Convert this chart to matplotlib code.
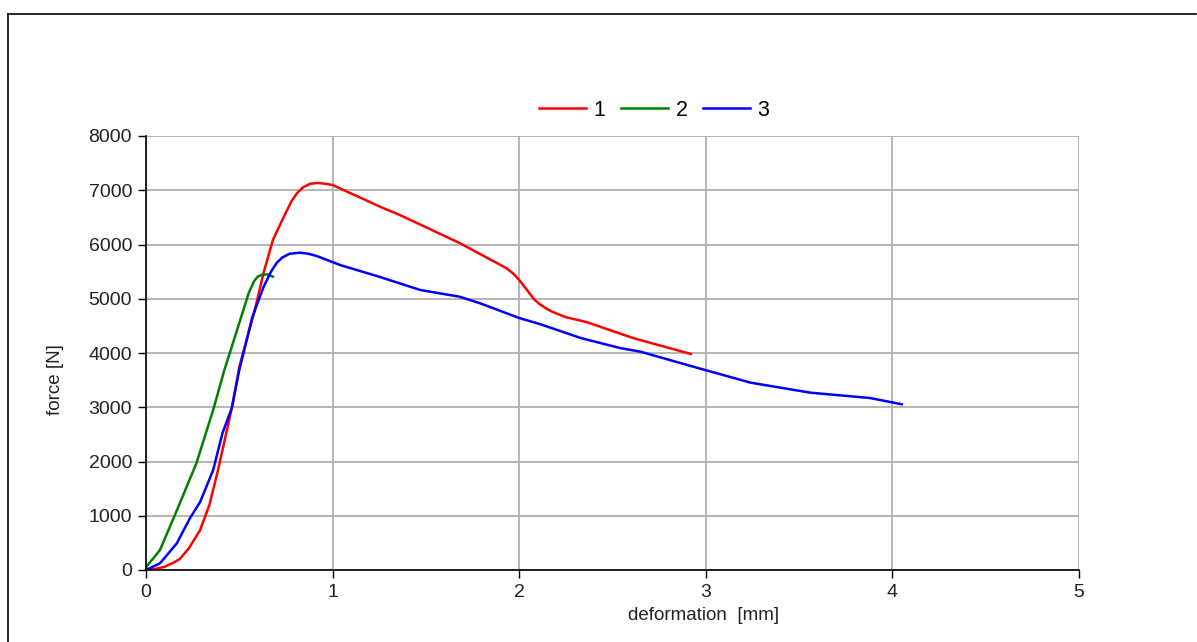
import matplotlib.pyplot as plt
from matplotlib.lines import Line2D

plt.rcParams["font.family"] = ["Liberation Sans", "DejaVu Sans"]

# curve 1 (red)
x1 = [0.0, 0.05, 0.10, 0.15, 0.18, 0.23, 0.29, 0.34, 0.386, 0.46, 0.50, 0.52, 0.58, 0.63,
      0.68, 0.73, 0.78, 0.81, 0.84, 0.88, 0.92, 0.96, 1.00, 1.254, 1.36, 1.68, 1.93,
      1.97, 2.00, 2.04, 2.08, 2.11, 2.15, 2.18, 2.25, 2.36, 2.61, 2.92]
y1 = [0, 20, 60, 140, 200, 400, 737, 1200, 1843, 2986, 3742, 4000, 4750, 5475,
      6083, 6450, 6800, 6950, 7050, 7120, 7134, 7120, 7097, 6697, 6544, 6028, 5567,
      5460, 5346, 5170, 4990, 4900, 4810, 4756, 4660, 4571, 4276, 3982]

# curve 2 (green)
x2 = [0.0, 0.075, 0.155, 0.27, 0.36, 0.42, 0.50, 0.55, 0.58, 0.60, 0.62, 0.65, 0.68]
y2 = [50, 369, 1014, 1966, 2949, 3687, 4553, 5100, 5330, 5410, 5440, 5450, 5407]

# curve 3 (blue)
x3 = [0.0, 0.075, 0.165, 0.236, 0.29, 0.36, 0.41, 0.46, 0.50, 0.57, 0.63, 0.67, 0.70,
      0.73, 0.77, 0.825, 0.87, 0.915, 1.04, 1.254, 1.47, 1.68, 1.79, 2.00, 2.11, 2.33,
      2.54, 2.65, 2.92, 3.24, 3.56, 3.88, 4.05]
y3 = [0, 123, 491, 958, 1253, 1843, 2525, 2986, 3687, 4664, 5217, 5500, 5659,
      5760, 5830, 5849, 5830, 5788, 5622, 5401, 5161, 5038, 4917, 4645, 4534, 4276,
      4092, 4024, 3760, 3453, 3269, 3170, 3055]

labels = ["1", "2", "3"]
colors = ["#ff0000", "#008000", "#0000ff"]

fig = plt.figure(figsize=(11.97, 6.42), dpi=100)
ax = fig.add_axes([146/1197, 1 - 570/642, (1079 - 146)/1197, (570 - 136)/642])

for xs, ys, lab, c in zip([x1, x2, x3], [y1, y2, y3], labels, colors):
    ax.plot(xs, ys, color=c, lw=1.8, label=lab, solid_joinstyle="round")

ax.set_xlim(0, 5)
ax.set_ylim(0, 8000)
ax.set_xticks(range(0, 6))
ax.set_yticks(range(0, 8001, 1000))
ax.grid(True, color="#b0b0b0", lw=1.3)
ax.set_axisbelow(True)
for s in ["top", "right"]:
    ax.spines[s].set_visible(False)
for s in ["left", "bottom"]:
    ax.spines[s].set_color("black")
    ax.spines[s].set_linewidth(1.2)
ax.tick_params(direction="out", length=6, width=1.0, labelsize=14,
               labelcolor="#222222", pad=4)

fig.text(704/1197, 1 - 615/642, "deformation  [mm]", ha="center", va="center",
         fontsize=13.5, color="#222222")
fig.text(56/1197, 1 - 380/642, "force [N]", ha="center", va="center",
         rotation=90, fontsize=13.5, color="#222222")

fig.legend(loc="center", bbox_to_anchor=(654/1197, 1 - 110/642), ncol=3,
           frameon=False, fontsize=15.5, handlelength=2.2, handletextpad=0.35,
           columnspacing=0.7)

# outer frame (top and left edges visible)
fig.add_artist(Line2D([8/1197, 1196/1197], [1 - 14/642, 1 - 14/642],
                      color="black", lw=1.2, transform=fig.transFigure))
fig.add_artist(Line2D([8/1197, 8/1197], [1 - 14/642, 0],
                      color="black", lw=1.2, transform=fig.transFigure))

fig.savefig("out.png", dpi=100)
